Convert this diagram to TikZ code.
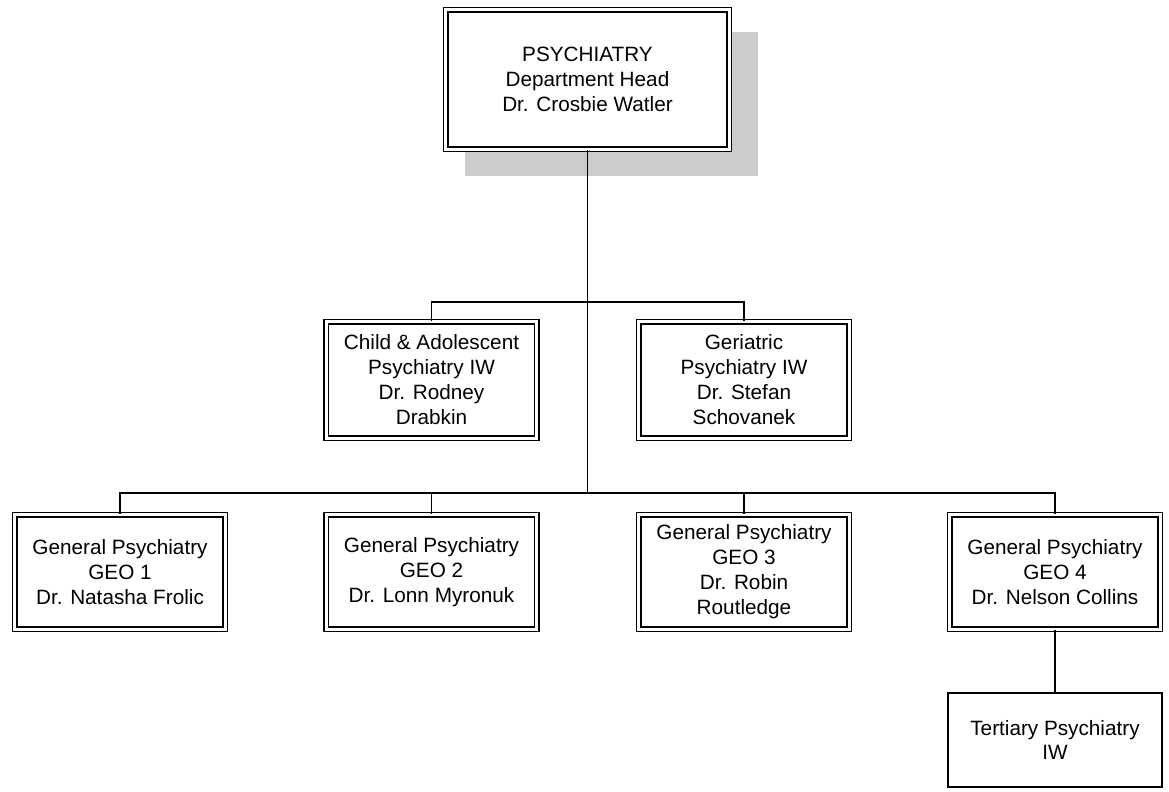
\documentclass[tikz,border=0pt]{standalone}
\usepackage{fontspec}
\setmainfont{Liberation Sans}
\usetikzlibrary{shadows}

\begin{document}
\begin{tikzpicture}[x=0.02cm, y=-0.02cm,
    unit/.style={draw, fill=white, double, double distance=1.55pt, line width=0.9pt,
      align=center, minimum width=4.21cm, minimum height=2.29cm,
      font=\fontsize{11.8}{14.2}\selectfont},
    ward/.style={unit, minimum height=2.33cm},
    chief/.style={unit, minimum width=5.67cm, minimum height=2.79cm,
      general shadow={fill=black!20, shadow xshift=0.46cm, shadow yshift=-0.47cm,
        shadow scale=1.035}},
    plain/.style={draw, fill=white, line width=0.9pt, align=center,
      minimum width=4.29cm, minimum height=1.89cm,
      font=\fontsize{11.8}{14.2}\selectfont},
    link/.style={line width=0.9pt}]
  \useasboundingbox (0, 0) rectangle (1169, 791);
  \node (head) at (587.5, 79.5) [chief] {PSYCHIATRY\\Department Head\\Dr. Crosbie Watler};
  \node (child) at (431.5, 380) [ward] {Child \& Adolescent\\Psychiatry IW\\Dr. Rodney\\Drabkin};
  \node (geri) at (744, 380) [ward] {Geriatric\\Psychiatry IW\\Dr. Stefan\\Schovanek};
  \node (geo1) at (120, 572) [unit] {General Psychiatry\\GEO 1\\Dr. Natasha Frolic};
  \node (geo2) at (431.5, 572) [unit] {General Psychiatry\\GEO 2\\Dr. Lonn Myronuk};
  \node (geo3) at (744, 572) [unit] {General Psychiatry\\GEO 3\\Dr. Robin\\Routledge};
  \node (geo4) at (1055, 572) [unit] {General Psychiatry\\GEO 4\\Dr. Nelson Collins};
  \node (tert) at (1055, 740) [plain] {Tertiary Psychiatry\\IW};
  \coordinate (hub1) at (587.5, 302);
  \coordinate (hub2) at (587.5, 493);
  \draw[link] (head.south) -- (hub2);
  \draw[link] (child.north) |- (hub1) -| (geri.north);
  \draw[link] (geo1.north) |- (hub2) -| (geo4.north);
  \draw[link] (geo2.north) -- (geo2.north |- hub2);
  \draw[link] (geo3.north) -- (geo3.north |- hub2);
  \draw[link] (geo4.south) -- (tert.north);
\end{tikzpicture}
\end{document}
